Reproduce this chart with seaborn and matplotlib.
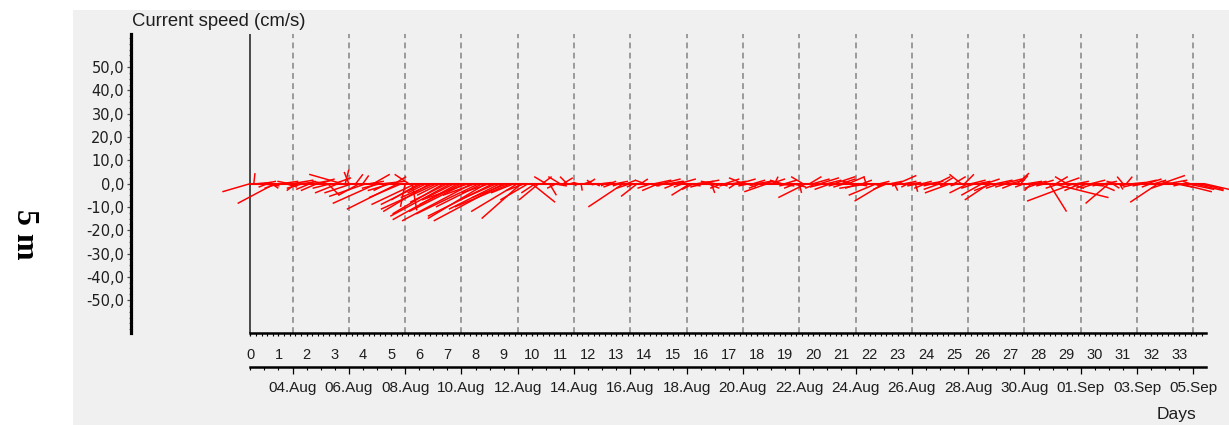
import numpy as np
import pandas as pd
import matplotlib
matplotlib.use("Agg")
import matplotlib.pyplot as plt
from matplotlib.patches import Rectangle
from matplotlib.ticker import FixedLocator
import seaborn as sns

# ---- current meter record at 5 m (3-hourly samples, day 0 = 02 Aug 12:00) ----
record_start = pd.Timestamp("2023-08-02 12:00")
sample_step_days = 0.125

# eastward component (cm/s), one row per day
u_cm_s = [
    -12, 0.5, 6, 8, 5, -4, 3, -16,
    -6, 7, 5, -5, 9, -4, 6, -7,
    4, -6, 8, -7, 6, -5, 5, -8,
    7, -10, -14, 1.5, -2, -12, 3, -9,
    2.5, -16, 6, 7, -19, -8, 9, -6,
    -10, 5, -22, -14, -2, -6, 2, -19,
    -12, -18, -8, -20, -14, -24, -10, -22,
    -16, -26, -12, -28, -18, -24, -20, -30,
    -14, -27, -20, -25, -12, -28, -16, -22,
    -30, -15, -24, -10, -20, -17, -8, -12,
    10, -6, -8.5, 4, -5, 3, 6, -4,
    -5, 4, -3, 2, 1, -2, 0.5, 3,
    3, -2, 2, -3, 4, -2, 3, -4,
    5, -3, -15, 4, -6, -3, -7, 3,
    -4, 5, -6, 7, -7, 8, -4, 6,
    5, -5, 7, -4, 6, -8, -5, 7,
    8, -6, 5, 1.5, -6, 4, -5, 6,
    -4, 6, -3, 7, -6, 4, -5, 5,
    6, -5, 4, -10, 6, 1.5, 7, -5,
    5, -4, 6, -5, 1, -5, -12, 5,
    7, -5, 8, -6, 6, -7, 9, -4,
    6, -5, 7, -4, 5, -6, 4, -1,
    -13, 3, -12, 4, -12.5, -6, 5, 1.5,
    8, -4, 5, -3, 4, 1, -5, 4,
    -5, 6, -4, 6, -7, 4, -3, -11,
    5, -3, -5, 4, -8, 6, -6, 5,
    -9, 6, -10.5, -8, 7, -6, 8, -5,
    6, -5, 5, 3, -4, 6, -3, 5,
    -6, 5, -4, 7.5, 24, 5, -6, 7,
    -5, 6, -20, 5, -7, 8, -5, 6,
    -6, 7, -4, 5, -10, 3, -4, 1.5,
    -2.5, 2.5, -4, 5, -6, 7, -5, 6,
    -4, 5, -12, 10, -6, 8, -5, 7,
    14, -4, 12, -3, 13, 9, 10, 11,
]

# northward component (cm/s), one row per day
v_cm_s = [
    -3.5, 4.5, 0.5, -1, 1, -1.5, -2, -8.5,
    -2, 1, -1.5, 1, 1.5, -3, 0.5, -2,
    1, -2.5, 1.5, -3, 2, 1, -5, -2,
    2.5, -4, 4, 6, 5, -4, 4, -5,
    3.5, -5.5, 1, 4, -8.5, -2, 1, -3,
    -3, 3, -11, -6, -10, 4, -11.5, -9,
    -7, -9, -4, -12, -6, -11, -5, -13,
    -8, -14, -6, -15.5, -9, -12, -7, -16,
    -5, -13, -10, -15, -4, -14, -7, -11,
    -16, -6, -10, -4, -12, -15, -3, -7,
    -8, -4, -7, 3, 3, -5, -1, -2,
    3, 2.5, 3, 0.5, -1, 0.5, -3, 1,
    2, 1.5, -1, -0.5, 0.5, -1, 1, -1.5,
    1, -1, -10, 1.5, -2, -1.5, -5.5, 2,
    1.5, -1, -2, 1.5, -3, 2, -1, 1,
    1, -2, 2, -1.5, -1, -5, -2.5, 1,
    1.5, -1.5, -2, -4, 1, -1, -2, 2,
    -1, 1, -2, 2, 2.5, -1.5, -1, 1.5,
    1, -2, 1, -3.5, 2, 3, -1, 1.5,
    1.5, -1, -1.5, -2, -4, 3, -6, 3,
    2, -2, 2.5, -1.5, 1.5, -2.5, 3, -1,
    2, -1.5, 3, 1, -1, -2, 1.5, 3,
    -2, -1, -5, 1, -7.5, -2.5, 1, -3,
    3.5, -1, 1, -1.5, 0.5, -3.5, -1, 1,
    -2, 1, -1, 3, -2.5, 2.5, -1, -4,
    3, -1, 4, 4, -4, 1.5, -2, 1,
    -5, 2, -7, -3, 1.5, -2, 2, -1.5,
    1.5, -2, 4.5, 3.5, -1.5, 1, -3, 1,
    -2, 1.5, -1, -12, -6, 3, -2, 2.5,
    3, -2, -7.5, 1, -3, -1, -2, 1.5,
    -2, -3, -1, 1, -8.5, -2, 1, -2.5,
    3, 3, -1, 0.5, -1.5, 1.5, -1, 2,
    -1.5, 1.5, -8, 3.5, -2, 1.5, 1, -1.5,
    -3.5, -1, -2.5, 1, -3, -1.5, -2.5, -2.5,
]

y_ticks = [-50, -40, -30, -20, -10, 0, 10, 20, 30, 40, 50]
day_ticks = list(range(0, 34))
date_ticks = pd.date_range("2023-08-04", "2023-09-05", freq="2D")

t_days = np.arange(len(u_cm_s)) * sample_step_days
u = np.asarray(u_cm_s, dtype=float)
v = np.asarray(v_cm_s, dtype=float)
date_pos = ((date_ticks - record_start) / pd.Timedelta(days=1)).to_numpy()
date_labels = [d.strftime("%d.%b") for d in date_ticks]
axis_end_day = 33.95

# ---- figure layout (pixels) ----
W, H = 1229, 425
sns.set_theme(style="white")
plt.rcParams["font.family"] = ["Liberation Sans", "DejaVu Sans"]

fig = plt.figure(figsize=(W / 100, H / 100), dpi=100, facecolor="white")
fig.patches.append(Rectangle((73 / W, 0), 1 - 73 / W, 1 - 10 / H,
                             transform=fig.transFigure, facecolor="#f0f0f0",
                             edgecolor="none", zorder=-10))

spine_px, right_px, top_px, axis_px = 131, 1229, 34, 333
day0_px, px_per_day = 250.3, 28.15
ax = fig.add_axes([spine_px / W, (H - axis_px) / H,
                   (right_px - spine_px) / W, (axis_px - top_px) / H])
ax.patch.set_visible(False)

# zero baseline and current sticks
sns.lineplot(x=t_days, y=np.zeros_like(t_days), ax=ax, color="red",
             linewidth=1.5, zorder=3)
ax.quiver(t_days, np.zeros_like(t_days), u, v, color="red",
          angles="uv", scale_units="y", scale=1, pivot="tail",
          headwidth=0, headlength=0, headaxislength=0,
          units="dots", width=1.5, zorder=4)

# reference verticals: start of record and date grid
ax.axvline(0, color="#3c3c3c", lw=1.3, zorder=2)
for p in date_pos:
    ax.axvline(p, color="#8c8c8c", lw=1.2, dashes=(3.5, 2.6), zorder=1)

ax.set_xlim((spine_px - day0_px) / px_per_day, (right_px - day0_px) / px_per_day)
ax.set_ylim(-64.1, 64.2)
ax.set_xlabel("")
ax.set_ylabel("")

for s in ("top", "right"):
    ax.spines[s].set_visible(False)
ax.spines["left"].set_linewidth(2.3)
ax.spines["left"].set_color("black")
ax.spines["bottom"].set_linewidth(1.8)
ax.spines["bottom"].set_color("black")
ax.spines["bottom"].set_bounds(0, axis_end_day)

# y axis
ax.set_yticks(y_ticks)
ax.set_yticklabels([f"{y:.1f}".replace(".", ",") for y in y_ticks],
                   family="DejaVu Sans", fontsize=10.5, color="#1e1e1e")
ax.yaxis.set_minor_locator(FixedLocator(np.arange(-62.5, 63, 2.5)))
ax.tick_params(axis="y", which="major", direction="out", length=3, width=0.9,
               color="#505050", pad=2, left=True)
ax.tick_params(axis="y", which="minor", direction="out", length=1.6, width=0.8,
               color="#707070", left=True)

# day axis
ax.set_xticks(day_ticks)
ax.set_xticklabels([str(d) for d in day_ticks], fontsize=10.5, color="#1e1e1e")
ax.xaxis.set_minor_locator(FixedLocator(np.arange(0, axis_end_day, 0.2)))
ax.tick_params(axis="x", which="major", direction="out", length=2.5, width=0.9,
               color="black", pad=8.6, bottom=True)
ax.tick_params(axis="x", which="minor", direction="out", length=2.0, width=0.8,
               color="black", bottom=True)

# calendar date axis below the day axis
date_axis_px = 366.7
axd = fig.add_axes([spine_px / W, (H - date_axis_px) / H,
                    (right_px - spine_px) / W, 1 / H])
axd.patch.set_visible(False)
axd.set_xlim(ax.get_xlim())
axd.set_yticks([])
for s in ("top", "right", "left"):
    axd.spines[s].set_visible(False)
axd.spines["bottom"].set_linewidth(1.8)
axd.spines["bottom"].set_color("black")
axd.spines["bottom"].set_bounds(0, axis_end_day)
axd.set_xticks(date_pos)
axd.set_xticklabels(date_labels, fontsize=11, color="#1e1e1e")
axd.xaxis.set_minor_locator(FixedLocator(np.arange(0, axis_end_day, 0.5)))
axd.tick_params(axis="x", which="major", direction="out", length=4.8, width=0.9,
                color="black", pad=5.4, bottom=True)
axd.tick_params(axis="x", which="minor", direction="out", length=2.4, width=0.8,
                color="black", bottom=True)

# texts
fig.text(132 / W, 1 - 21 / H, "Current speed (cm/s)", ha="left", va="center",
         fontsize=13.3, color="#1e1e1e")
fig.text(1177 / W, 1 - 414 / H, "Days", ha="center", va="center",
         fontsize=12.5, color="#1e1e1e")
fig.text(24 / W, 1 - 234 / H, "5 m", rotation=270, ha="center", va="center",
         fontsize=23, family="Liberation Serif", weight="bold", color="black")

fig.savefig("out.png", dpi=100, facecolor="white")
